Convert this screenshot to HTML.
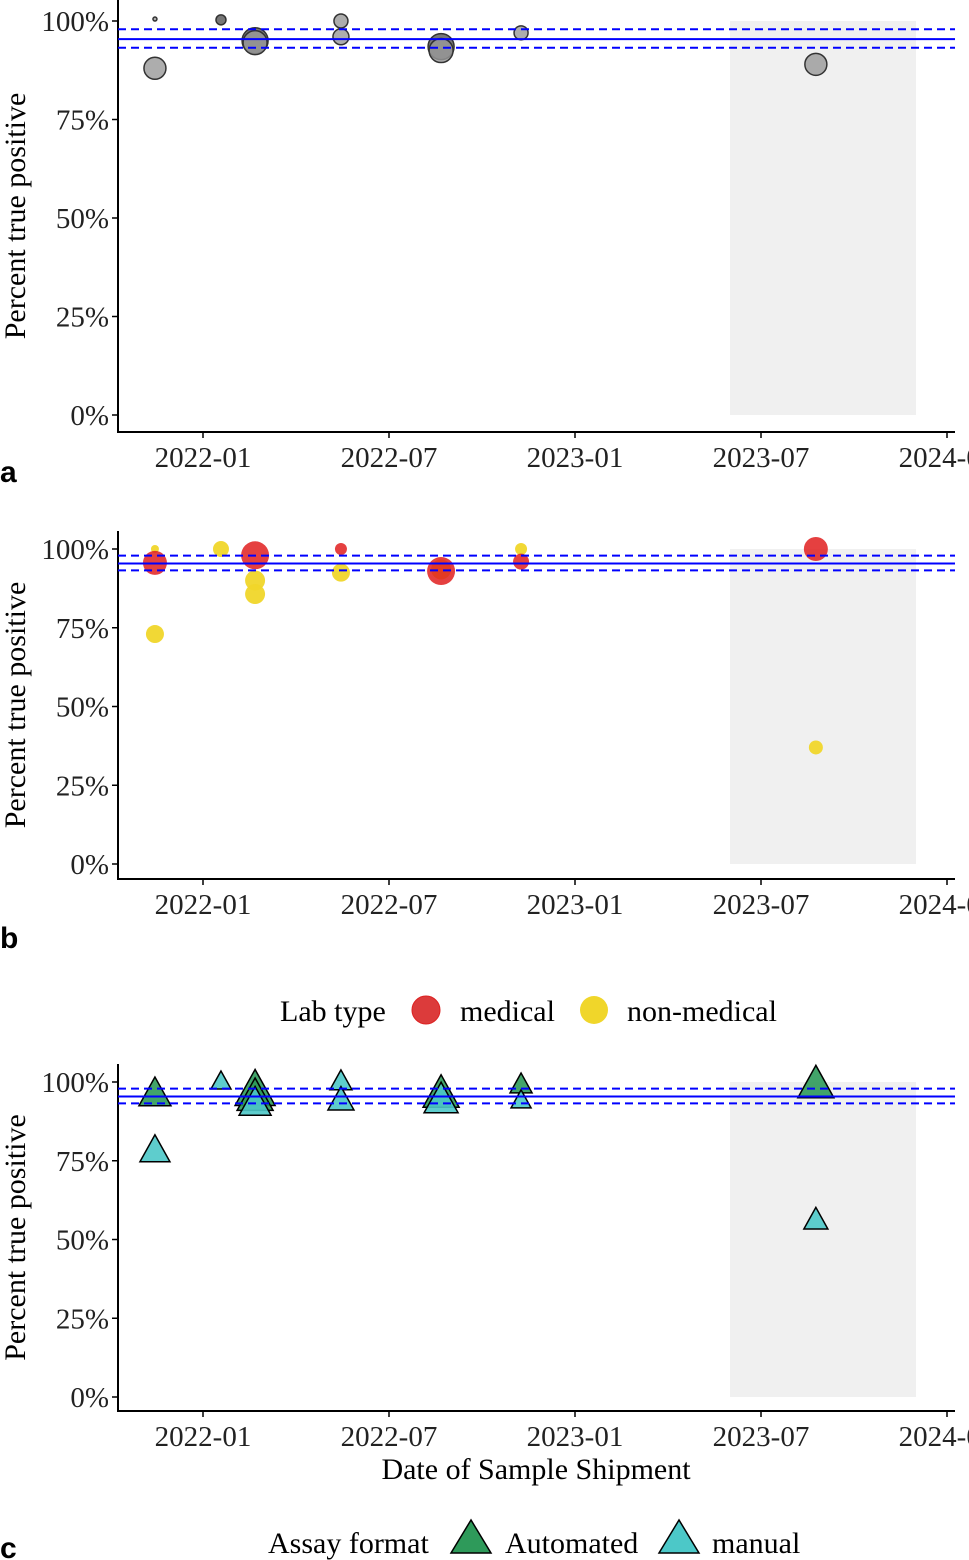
<!DOCTYPE html>
<html><head><meta charset="utf-8">
<style>
body{margin:0;background:#fff;}
svg{display:block;font-family:"Liberation Serif",serif;}
.tick{font-size:29px;fill:#222;}
.lab{font-size:30px;fill:#000;}
.pl{font-family:"Liberation Sans",sans-serif;font-weight:bold;font-size:30px;}
</style></head>
<body>
<svg id="chart" width="969" height="1560" viewBox="0 0 969 1560"></svg>
<script>
// Shared axis data (months offset from 2022-01)
const xTickLabels = ["2022-01","2022-07","2023-01","2023-07","2024-01"];
const xTickMonths = [0, 6, 12, 18, 24];
const yTickLabels = ["0%","25%","50%","75%","100%"];
const yTickValues = [0, 25, 50, 75, 100];
const shadeRange = [17.0, 23.0];
const refLines = [95.4, 97.9, 93.2];

// Panel a
const aMonths = [-1.55, -1.55, 0.58, 1.68, 1.68, 4.45, 4.45, 7.68, 7.68, 10.26, 19.77];
const aValues = [100.5, 88, 100.3, 95, 94.5, 100, 96, 93.5, 92.5, 97, 89];
const aSizes  = [2, 11, 5, 13, 12, 7, 8, 13, 12, 7, 11];

// Panel b
const bMedMonths = [-1.55, 1.68, 4.45, 7.68, 10.26, 19.77];
const bMedValues = [95.6, 98, 100, 93, 96, 100];
const bMedSizes  = [12, 14, 6, 14, 8, 12];
const bNonMonths = [-1.55, -1.55, 0.58, 1.68, 1.68, 4.45, 7.68, 10.26, 19.77];
const bNonValues = [100, 73, 100, 90, 85.7, 92.5, 93.5, 100, 37];
const bNonSizes  = [4, 9, 8, 10, 10, 9, 10, 6, 7];

// Panel c
const cAutoMonths = [-1.55, 1.68, 1.68, 7.68, 10.26, 19.77];
const cAutoValues = [96, 97, 95, 96, 99, 99];
const cAutoSizes  = [16, 20, 18, 18, 11, 18];
const cManMonths = [-1.55, 0.58, 1.68, 4.45, 4.45, 7.68, 10.26, 19.77];
const cManValues = [78, 100, 93, 100, 94, 94, 94, 56];
const cManSizes  = [15, 10, 16, 11, 13, 17, 10, 12];

const NS = "http://www.w3.org/2000/svg";
const svg = document.getElementById("chart");
function mk(tag, attrs, parent){const e=document.createElementNS(NS,tag);for(const k in attrs)e.setAttribute(k,attrs[k]);(parent||svg).appendChild(e);return e;}
const xScale = m => 203 + m * 31.0;

function panel(id, top0, y0, y100, axisBottom, letter, letterY){
  const g = mk("g", {});
  
  
  const yScale = v => y0 + (y100 - y0) * v / 100;
  const sh = mk("rect", {x:xScale(shadeRange[0]), y:yScale(100), width:xScale(shadeRange[1])-xScale(shadeRange[0]), height:y0-yScale(100), fill:"#f0f0f0"}, g);
  
  
  const ax = mk("path", {d:`M118 ${top0} V${axisBottom} H955`, stroke:"#000", "stroke-width":2, fill:"none"}, g);
  
  
  yTickValues.forEach((v,i)=>{
    const y = yScale(v);
    mk("line",{x1:112,x2:118,y1:y,y2:y,stroke:"#000","stroke-width":1.5},g);
    const t = mk("text",{x:109,y:y+10,"text-anchor":"end",class:"tick"},g);
    t.textContent = yTickLabels[i];
    
    
  });
  xTickMonths.forEach((m,i)=>{
    const x = xScale(m);
    mk("line",{x1:x,x2:x,y1:axisBottom,y2:axisBottom+6,stroke:"#000","stroke-width":1.5},g);
    const t = mk("text",{x:x,y:axisBottom+35,"text-anchor":"middle",class:"tick"},g);
    t.textContent = xTickLabels[i];
    
    
  });
  const yt = mk("text",{transform:`translate(25 ${(top0+axisBottom)/2}) rotate(-90)`,"text-anchor":"middle",class:"lab"},g);
  yt.textContent = "Percent true positive";
  
  
  const pl = mk("text",{x:0,y:letterY,class:"pl"},g);
  pl.textContent = letter;
  
  
  return {g, yScale};
}
function refs(g, yScale){
  refLines.forEach((v,i)=>{
    const l = mk("line",{x1:118,x2:955,y1:yScale(v),y2:yScale(v),stroke:"#0000ff","stroke-width":2,"stroke-dasharray":i?"8 5":"none"},g);
    
    
  });
}
function tri(g, cx, cy, s, fill){
  return mk("polygon",{points:`${cx},${cy-1.1*s} ${cx-s},${cy+0.7*s} ${cx+s},${cy+0.7*s}`,fill:fill,stroke:"#000","stroke-width":1.5,"fill-opacity":0.9},g);
}

// Panel a
{
  const {g,yScale} = panel("a", 0, 415, 21, 432, "a", 482);
  aMonths.forEach((m,i)=>{
    const c = mk("circle",{cx:xScale(m),cy:yScale(aValues[i]),r:aSizes[i],fill:i===2||i===3||i===7?"#555":"#999",stroke:"#333","stroke-width":1.5,"fill-opacity":0.8},g);
    
    
  });
  refs(g,yScale);
}
// Panel b
{
  const {g,yScale} = panel("b", 531, 864, 549, 879, "b", 948);
  bNonMonths.forEach((m,i)=>{
    const c = mk("circle",{cx:xScale(m),cy:yScale(bNonValues[i]),r:bNonSizes[i],fill:"#f0d62a","fill-opacity":0.95},g);
    
    
  });
  bMedMonths.forEach((m,i)=>{
    const c = mk("circle",{cx:xScale(m),cy:yScale(bMedValues[i]),r:bMedSizes[i],fill:"#e01e1e","fill-opacity":0.85},g);
    
    
  });
  refs(g,yScale);
  const lg = mk("g",{},g);
  
  
  const t1 = mk("text",{x:280,y:1021,class:"lab"},lg); t1.textContent="Lab type";
  mk("circle",{cx:426,cy:1010,r:14,fill:"#dc3b3b",stroke:"#d22","stroke-width":1},lg);
  const t2 = mk("text",{x:460,y:1021,class:"lab"},lg); t2.textContent="medical";
  mk("circle",{cx:594,cy:1010,r:14,fill:"#f0d62a"},lg);
  const t3 = mk("text",{x:627,y:1021,class:"lab"},lg); t3.textContent="non-medical";
}
// Panel c
{
  const {g,yScale} = panel("c", 1064, 1397, 1082, 1411, "c", 1558);
  cAutoMonths.forEach((m,i)=>{
    const p = tri(g, xScale(m), yScale(cAutoValues[i]), cAutoSizes[i], "#2e9a5a");
    
    
  });
  cManMonths.forEach((m,i)=>{
    const p = tri(g, xScale(m), yScale(cManValues[i]), cManSizes[i], "#4cc8c8");
    
    
  });
  refs(g,yScale);
  const xt = mk("text",{x:536,y:1479,"text-anchor":"middle",class:"lab"},g);
  xt.textContent = "Date of Sample Shipment";
  
  
  const lg = mk("g",{},g);
  
  
  const t1 = mk("text",{x:268,y:1553,class:"lab"},lg); t1.textContent="Assay format";
  mk("polygon",{points:"471,1520 451,1553 491,1553",fill:"#2e9a5a",stroke:"#000","stroke-width":1.5},lg);
  const t2 = mk("text",{x:505,y:1553,class:"lab"},lg); t2.textContent="Automated";
  mk("polygon",{points:"679,1520 659,1553 699,1553",fill:"#4cc8c8",stroke:"#000","stroke-width":1.5},lg);
  const t3 = mk("text",{x:712,y:1553,class:"lab"},lg); t3.textContent="manual";
}
</script>
</body></html>
